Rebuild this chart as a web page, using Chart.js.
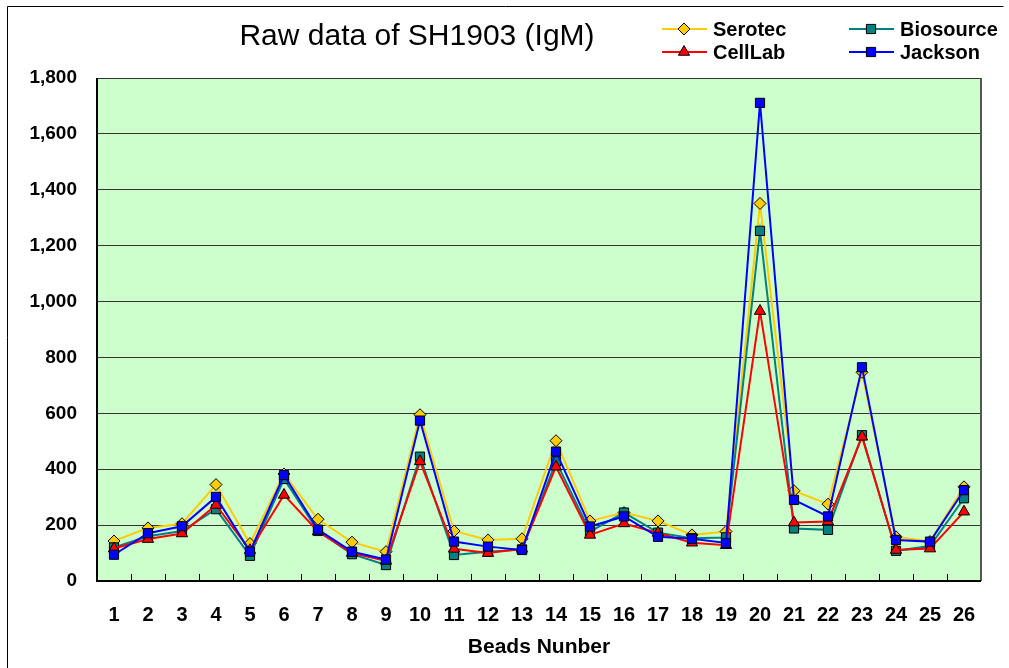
<!DOCTYPE html>
<html lang="en">
<head>
<meta charset="UTF-8">
<title>Raw data of SH1903 (IgM)</title>
<style>
    body { margin: 0; background: #ffffff; }
    #wrap { width: 1009px; height: 668px; position: relative; }
</style>
<script src="https://cdn.jsdelivr.net/npm/chart.js"></script>
</head>
<body>
<div id="wrap"><canvas id="lineChart" width="1009" height="668"></canvas></div>
<script>
// data
var beads = ['1','2','3','4','5','6','7','8','9','10','11','12','13','14','15','16','17','18','19','20','21','22','23','24','25','26'];
var serotec   = [143, 190, 205, 345, 134, 383, 221, 139, 105, 595, 179, 147, 151, 502, 215, 245, 215, 165, 177, 1351, 323, 275, 747, 158, 141, 337];
var biosource = [120, 160, 179, 257,  90, 365, 179,  96,  57, 445,  93, 105, 113, 428, 177, 245, 173, 153, 156, 1253, 188, 183, 522, 108, 125, 296];
var cellLab   = [116, 150, 170, 272, 110, 308, 177, 100,  72, 428, 115, 100, 115, 409, 165, 206, 172, 137, 128,  966, 209, 213, 516, 111, 116, 248];
var jackson   = [ 94, 171, 196, 301, 105, 379, 184, 105,  77, 574, 141, 123, 111, 463, 195, 231, 158, 151, 136, 1711, 290, 231, 765, 147, 141, 325];
var yTicks = [0, 200, 400, 600, 800, 1000, 1200, 1400, 1600, 1800];

var titleText = 'Raw data of SH1903 (IgM)';
var xTitle = 'Beads Nunber';

var legendItems = [
    { label: 'Serotec',   color: '#ffcc00', marker: 'rectRot',  radius: 6 },
    { label: 'Biosource', color: '#008080', marker: 'rect',     radius: 6.5 },
    { label: 'CellLab',   color: '#ff0000', marker: 'triangle', radius: 6.5 },
    { label: 'Jackson',   color: '#0000ff', marker: 'rect',     radius: 6.5 }
];

function series(i, data, order) {
    var it = legendItems[i];
    return {
        label: it.label,
        data: data,
        order: order,
        borderColor: it.color,
        borderWidth: 2,
        pointStyle: it.marker,
        pointRadius: it.radius,
        pointBackgroundColor: it.color,
        pointBorderColor: '#000000',
        pointBorderWidth: 1,
        tension: 0
    };
}

// frame, plot fill, inner tick marks, title and legend
var decor = {
    id: 'decor',
    beforeDraw: function(chart) {
        var c = chart.ctx, a = chart.chartArea;
        c.save();
        c.fillStyle = '#ccffcc';
        c.fillRect(a.left, a.top, a.right - a.left, a.bottom - a.top);
        c.strokeStyle = '#000000';
        c.lineWidth = 1;
        c.beginPath();
        c.moveTo(7.5, 700);
        c.lineTo(7.5, 6.5);
        c.lineTo(1003.5, 6.5);
        c.stroke();
        c.restore();
    },
    afterDatasetsDraw: function(chart) {
        var c = chart.ctx, a = chart.chartArea, xs = chart.scales.x;
        c.save();
        // plot border
        c.strokeStyle = '#555555';
        c.lineWidth = 2;
        c.beginPath();
        c.moveTo(a.right, a.top);
        c.lineTo(a.right, a.bottom);
        c.stroke();
        c.strokeStyle = '#000000';
        c.beginPath();
        c.moveTo(a.left, a.top);
        c.lineTo(a.left, a.bottom);
        c.lineTo(a.right, a.bottom);
        c.stroke();
        // inside tick marks between categories
        c.lineWidth = 1;
        c.strokeStyle = '#000000';
        var step = (a.right - a.left) / beads.length;
        for (var i = 1; i < beads.length; i++) {
            var x = Math.round(xs.getPixelForValue(i) - step / 2) + 0.5;
            c.beginPath();
            c.moveTo(x, a.bottom);
            c.lineTo(x, a.bottom - 7);
            c.stroke();
        }
        // title
        c.fillStyle = '#000000';
        c.font = '30px "Liberation Sans", Arial, sans-serif';
        c.textAlign = 'center';
        c.textBaseline = 'alphabetic';
        c.fillText(titleText, 417, 45);
        // legend, two columns
        var cols = [662, 849], rows = [29, 52];
        c.font = 'bold 20px "Liberation Sans", Arial, sans-serif';
        c.textAlign = 'left';
        c.textBaseline = 'middle';
        legendItems.forEach(function(it, k) {
            var lx = cols[k % 2], ly = rows[Math.floor(k / 2)];
            c.strokeStyle = it.color;
            c.lineWidth = 2;
            c.beginPath();
            c.moveTo(lx, ly);
            c.lineTo(lx + 45, ly);
            c.stroke();
            c.fillStyle = it.color;
            c.strokeStyle = '#000000';
            c.lineWidth = 1;
            Chart.helpers.drawPoint(c, { pointStyle: it.marker, radius: it.radius, rotation: 0, borderWidth: 1 }, lx + 22, ly);
            c.fillStyle = '#000000';
            c.fillText(it.label, lx + 51, ly + 1);
        });
        c.restore();
    }
};

var ctx = document.getElementById('lineChart').getContext('2d');
new Chart(ctx, {
    type: 'line',
    data: {
        labels: beads,
        datasets: [
            series(0, serotec, 3),
            series(1, biosource, 2),
            series(2, cellLab, 1),
            series(3, jackson, 0)
        ]
    },
    options: {
        responsive: false,
        animation: false,
        layout: { padding: { left: 20, top: 78, right: 28, bottom: 8 } },
        plugins: {
            legend: { display: false },
            title: { display: false },
            tooltip: { enabled: false }
        },
        scales: {
            x: {
                offset: true,
                grid: { display: false, drawTicks: false },
                border: { display: false },
                ticks: {
                    color: '#000000',
                    padding: 22,
                    maxRotation: 0,
                    autoSkip: false,
                    font: { family: '"Liberation Sans", Arial, sans-serif', size: 20, weight: 'bold' }
                },
                title: {
                    display: true,
                    text: xTitle,
                    color: '#000000',
                    padding: { top: 0, bottom: 0 },
                    font: { family: '"Liberation Sans", Arial, sans-serif', size: 21, weight: 'bold' }
                },
                afterFit: function(s) { s.height = 668 - 8 - 581; }
            },
            y: {
                min: 0,
                max: 1800,
                afterBuildTicks: function(s) { s.ticks = yTicks.map(function(v) { return { value: v }; }); },
                grid: { color: '#333333', lineWidth: 1, drawTicks: false },
                border: { display: false },
                ticks: {
                    color: '#000000',
                    padding: 20,
                    callback: function(v) { return v.toLocaleString('en-US'); },
                    font: { family: '"Liberation Sans", Arial, sans-serif', size: 19, weight: 'bold' }
                },
                afterFit: function(s) { s.width = 97 - 20; }
            }
        }
    },
    plugins: [decor]
});
</script>
</body>
</html>
